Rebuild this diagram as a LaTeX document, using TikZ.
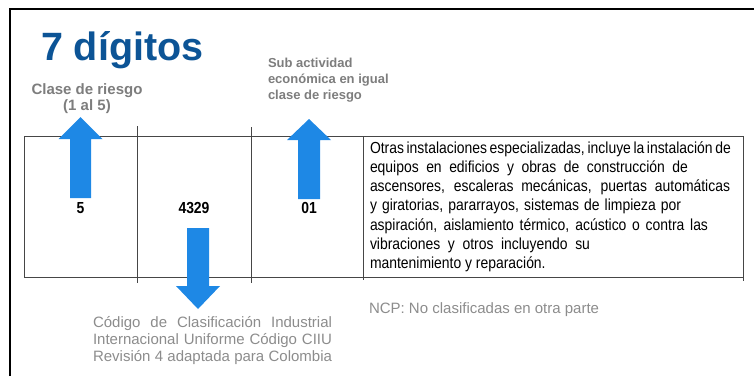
\documentclass[tikz,border=0pt]{standalone}
\usepackage{fontspec}
\setmainfont{Liberation Sans}
\newfontfamily\narrowfont[FakeStretch=0.87]{Liberation Sans}
\definecolor{titleblue}{RGB}{12,84,150}
\definecolor{arrowblue}{RGB}{30,136,229}
\definecolor{labelgray}{RGB}{125,125,125}
\definecolor{lightgray}{RGB}{140,140,140}
\definecolor{gridgray}{RGB}{70,70,70}
\tikzset{
  lbl/.style={inner sep=0pt, outer sep=0pt},
  grid/.style={draw=gridgray, line width=1pt},
  bluearrow/.style={fill=arrowblue, draw=none},
}
\newcommand{\sline}[2]{\makebox[#1pt][s]{#2}}
\begin{document}
\begin{tikzpicture}[x=1pt,y=-1pt]
\useasboundingbox (0,0) rectangle (754,376);
% frame
\draw[line width=2pt, black] (10,376) -- (10,9) -- (754,9);
% table grid
\draw[grid] (24,136) -- (743,136);
\draw[grid] (24,277) -- (743,277);
\draw[grid] (24,136) -- (24,277);
\draw[grid] (137,126) -- (137,283);
\draw[grid] (251,127) -- (251,283);
\draw[grid] (363,136) -- (363,280);
\draw[grid] (743,136) -- (743,281);
% title
\node[lbl, anchor=base west, text=titleblue, font=\fontsize{39.5}{39.5}\selectfont\bfseries] (title) at (41,60) {7 dígitos};
% labels (base anchor = baseline of last line)
\node[lbl, anchor=base, align=center, text=labelgray, font=\fontsize{15}{16}\selectfont\bfseries] (clase) at (87,110) {Clase de riesgo\\(1 al 5)};
\node[lbl, anchor=base west, align=left, text=labelgray, font=\fontsize{13}{16}\selectfont\bfseries] (sub) at (268,99) {Sub actividad\\económica en igual\\clase de riesgo};
% numbers
\node[lbl, anchor=base, font=\narrowfont\fontsize{16}{16}\selectfont\bfseries] (n5) at (80.5,213) {5};
\node[lbl, anchor=base, font=\narrowfont\fontsize{16}{16}\selectfont\bfseries] (n4329) at (194,213) {4329};
\node[lbl, anchor=base, font=\narrowfont\fontsize{16}{16}\selectfont\bfseries] (n01) at (309,213) {01};
% description
\node[lbl, anchor=base west, align=left, font=\narrowfont\fontsize{16}{19.2}\selectfont] (desc) at (370,268.5) {%
\sline{359}{Otras instalaciones especializadas, incluye la instalación de}\\
\sline{318}{equipos en edificios y  obras  de  construcción  de}\\
\sline{360}{ascensores, escaleras mecánicas, puertas automáticas}\\
\sline{311}{y giratorias, pararrayos, sistemas de limpieza por}\\
\sline{338}{aspiración, aislamiento térmico, acústico o contra las}\\
\sline{220}{vibraciones y otros incluyendo su}\\
mantenimiento y reparación.};
% bottom texts
\node[lbl, anchor=base west, align=left, text=lightgray, font=\fontsize{15}{17}\selectfont] (ciiu) at (93,361) {%
\sline{239}{Código de Clasificación Industrial}\\
\sline{239}{Internacional Uniforme Código CIIU}\\
\sline{239}{Revisión 4 adaptada para Colombia}};
\node[lbl, anchor=base west, text=lightgray, font=\fontsize{15}{17}\selectfont] (ncp) at (369,313) {NCP: No clasificadas en otra parte};
% arrows
\fill[bluearrow] (80.5,117) -- (102.5,139) -- (91,139) -- (91,198) -- (70,198) -- (70,139) -- (58.5,139) -- cycle;
\fill[bluearrow] (309,119) -- (331,140) -- (320,140) -- (320,199) -- (298,199) -- (298,140) -- (287,140) -- cycle;
\fill[bluearrow] (187,228) -- (209,228) -- (209,286) -- (220,286) -- (198,309) -- (176,286) -- (187,286) -- cycle;
\end{tikzpicture}
\end{document}
